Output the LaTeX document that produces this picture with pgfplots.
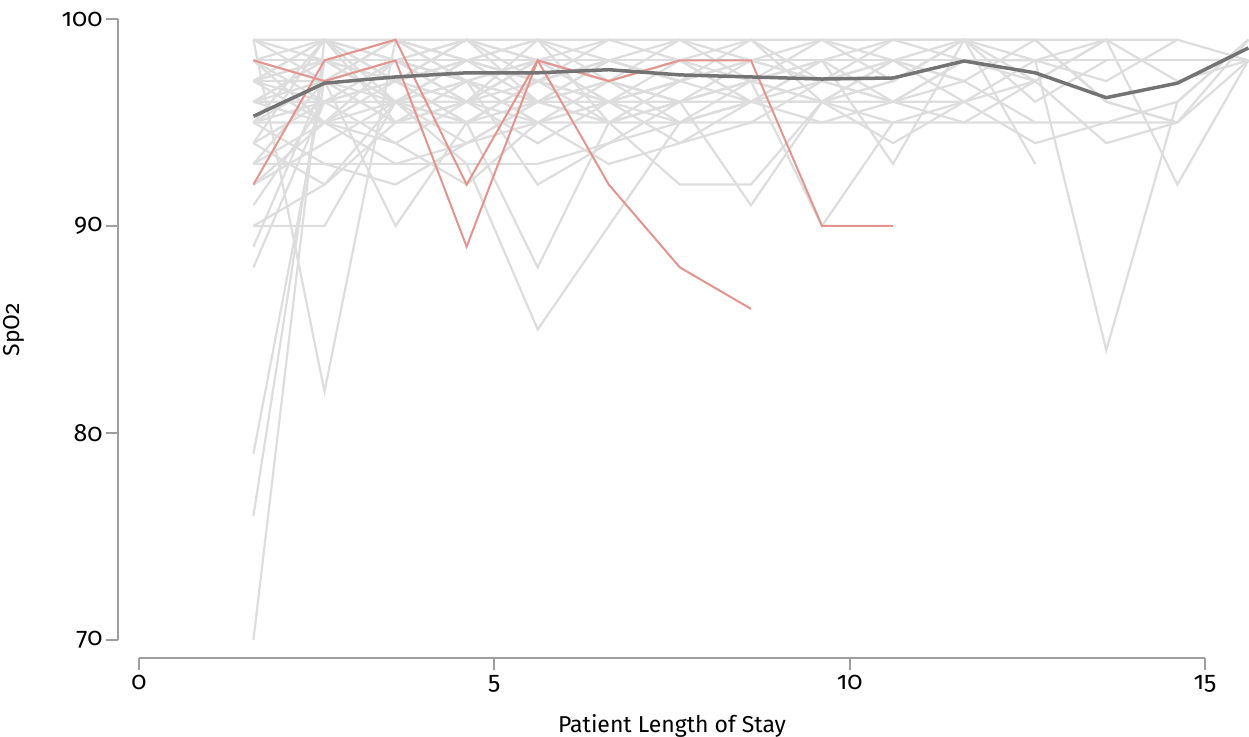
\documentclass[border=0pt]{standalone}
\usepackage{fontspec}
\setmainfont{Fira Sans}[Numbers={OldStyle,Proportional}]
\usepackage{pgfplots}
\pgfplotsset{compat=1.18}

\definecolor{axgrey}{HTML}{9E9E9E}
\definecolor{lgrey}{HTML}{DDDDDD}
\definecolor{pred}{HTML}{E3948F}
\definecolor{meangrey}{HTML}{737373}

\pgfplotsset{
  gl/.style={draw=lgrey, line width=2.2pt, no markers},
  rl/.style={draw=pred, line width=2pt, no markers},
}

\begin{document}
\begin{tikzpicture}
\begin{axis}[
    x=71.07pt, y=20.7pt,
    xmin=0, xmax=15, ymin=70, ymax=100,
    clip=false,
    axis lines*=left,
    axis x line shift=18pt,
    axis y line shift=21pt,
    axis line style={draw=axgrey, line width=2pt},
    tick style={draw=axgrey, line width=2pt},
    tick align=outside,
    major tick length=12pt,
    xtick={0,5,10,15},
    ytick={70,80,90,100},
    /pgf/number format/assume math mode=true,
    ticklabel style={font=\fontsize{25}{30}\selectfont, text=black},
    xticklabel style={yshift=-2pt},
    xlabel={Patient Length of Stay},
    ylabel={SpO2},
    label style={font=\fontsize{23}{28}\selectfont, text=black},
    xlabel style={at={(axis description cs:0.5,0)}, anchor=base, yshift=-92pt},
    ylabel style={at={(axis description cs:0,0.5)}, anchor=base, yshift=119pt},
]

% individual patients
\addplot[gl] coordinates {(1.61,99)(2.61,99)(3.61,99)(4.61,99)(5.61,99)(6.61,99)(7.61,99)(8.61,99)(9.61,99)(10.61,99)(11.61,99)(12.61,99)(13.61,99)(14.61,99)(15.61,98)};
\addplot[gl] coordinates {(1.61,98)(2.61,98)(3.61,98)(4.61,98)(5.61,98)(6.61,98)(7.61,98)(8.61,98)(9.61,98)(10.61,98)(11.61,98)(12.61,98)(13.61,98)(14.61,98)(15.61,98)};
\addplot[gl] coordinates {(1.61,97)(2.61,96)(3.61,96)(4.61,96)(5.61,96)(6.61,96)(7.61,96)(8.61,96)(9.61,96)(10.61,96)(11.61,96)(12.61,94)(13.61,95)(14.61,96)(15.61,99)};
\addplot[gl] coordinates {(1.61,95)(2.61,95)(3.61,95)(4.61,95)(5.61,95)(6.61,95)(7.61,95)(8.61,95)(9.61,95)(10.61,95)(11.61,95)(12.61,95)(13.61,95)(14.61,95)(15.61,98)};
\addplot[gl] coordinates {(1.61,96)(2.61,97)(3.61,99)(4.61,97)(5.61,98)(6.61,97)(7.61,99)(8.61,98)(9.61,97)(10.61,99)(11.61,99)(12.61,98)(13.61,84)(14.61,96)(15.61,99)};
\addplot[gl] coordinates {(1.61,97)(2.61,98)(3.61,96)(4.61,98)(5.61,99)(6.61,97)(7.61,98)(8.61,96)(9.61,98)(10.61,93)(11.61,99)(12.61,97)(13.61,99)(14.61,92)(15.61,98)};
\addplot[gl] coordinates {(1.61,98)(2.61,99)(3.61,97)(4.61,95)(5.61,96)(6.61,98)(7.61,97)(8.61,99)(9.61,96)(10.61,97)(11.61,99)(12.61,93)};
\addplot[gl] coordinates {(1.61,99)(2.61,82)(3.61,99)(4.61,98)(5.61,97)(6.61,95)(7.61,96)(8.61,97)(9.61,98)(10.61,99)(11.61,98)};
\addplot[gl] coordinates {(1.61,93)(2.61,93)(3.61,93)(4.61,93)(5.61,93)(6.61,94)(7.61,95)(8.61,96)(9.61,96)(10.61,95)};
\addplot[gl] coordinates {(1.61,90)(2.61,90)(3.61,96)(4.61,97)(5.61,95)(6.61,96)(7.61,97)(8.61,98)};
\addplot[gl] coordinates {(1.61,70)(2.61,99)(3.61,97)(4.61,98)(5.61,96)};
\addplot[gl] coordinates {(1.61,76)(2.61,98)(3.61,96)(4.61,95)(5.61,97)(6.61,98)};
\addplot[gl] coordinates {(1.61,79)(2.61,97)(3.61,98)(4.61,96)(5.61,95)};
\addplot[gl] coordinates {(1.61,88)(2.61,96)(3.61,97)(4.61,99)(5.61,98)(6.61,96)(7.61,97)};
\addplot[gl] coordinates {(1.61,89)(2.61,97)(3.61,95)(4.61,96)(5.61,98)(6.61,99)};
\addplot[gl] coordinates {(1.61,95)(2.61,97)(3.61,90)(4.61,95)(5.61,97)(6.61,96)};
\addplot[gl] coordinates {(1.61,97)(2.61,95)(3.61,96)(4.61,93)(5.61,85)(6.61,90)(7.61,95)(8.61,96)};
\addplot[gl] coordinates {(1.61,96)(2.61,98)(3.61,97)(4.61,95)(5.61,88)(6.61,95)(7.61,97)};
\addplot[gl] coordinates {(1.61,94)(2.61,96)(3.61,98)(4.61,97)(5.61,96)(6.61,95)(7.61,92)(8.61,92)(9.61,96)(10.61,97)};
\addplot[gl] coordinates {(1.61,98)(2.61,97)(3.61,95)(4.61,96)(5.61,98)(6.61,97)(7.61,96)(8.61,91)(9.61,96)(10.61,98)(11.61,97)};
\addplot[gl] coordinates {(1.61,92)(2.61,94)(3.61,96)(4.61,97)(5.61,98)(6.61,97)(7.61,96)(8.61,97)(9.61,90)(10.61,95)(11.61,96)(12.61,97)};
\addplot[gl] coordinates {(1.61,96)(2.61,95)(3.61,94)(4.61,92)(5.61,95)(6.61,97)(7.61,98)(8.61,96)(9.61,97)(10.61,98)};
\addplot[gl] coordinates {(1.61,97)(2.61,99)(3.61,98)(4.61,97)(5.61,95)(6.61,96)(7.61,94)(8.61,95)(9.61,97)(10.61,96)(11.61,95)(12.61,97)(13.61,99)};
\addplot[gl] coordinates {(1.61,95)(2.61,96)(3.61,97)(4.61,96)(5.61,99)(6.61,98)(7.61,97)(8.61,96)(9.61,95)(10.61,96)(11.61,98)(12.61,98)(13.61,97)(14.61,99)};
\addplot[gl] coordinates {(1.61,98)(2.61,96)(3.61,97)(4.61,98)(5.61,97)(6.61,99)(7.61,98)(8.61,97)(9.61,99)(10.61,98)(11.61,99)(12.61,99)(13.61,96)(14.61,95)(15.61,99)};
\addplot[gl] coordinates {(1.61,99)(2.61,97)(3.61,98)(4.61,99)(5.61,97)(6.61,96)(7.61,98)(8.61,99)(9.61,97)(10.61,98)(11.61,96)(12.61,98)(13.61,99)(14.61,97)(15.61,98)};
\addplot[gl] coordinates {(1.61,96)(2.61,98)(3.61,99)(4.61,97)(5.61,96)(6.61,97)(7.61,95)(8.61,96)(9.61,98)};
\addplot[gl] coordinates {(1.61,97)(2.61,97)(3.61,96)(4.61,98)(5.61,99)(6.61,95)(7.61,96)};
\addplot[gl] coordinates {(1.61,99)(2.61,98)(3.61,96)(4.61,95)(5.61,97)(6.61,98)};
\addplot[gl] coordinates {(1.61,93)(2.61,95)(3.61,98)(4.61,99)(5.61,96)};
\addplot[gl] coordinates {(1.61,94)(2.61,99)(3.61,95)(4.61,97)};
\addplot[gl] coordinates {(1.61,91)(2.61,96)(3.61,94)(4.61,96)(5.61,97)(6.61,98)(7.61,97)};
\addplot[gl] coordinates {(1.61,90)(2.61,92)(3.61,96)(4.61,98)(5.61,97)};
\addplot[gl] coordinates {(1.61,95)(2.61,99)(3.61,98)(4.61,96)(5.61,94)(6.61,96)(7.61,95)(8.61,97)(9.61,98)(10.61,96)(11.61,97)(12.61,99)(13.61,96)(14.61,95)};
\addplot[gl] coordinates {(1.61,96)(2.61,96)(3.61,98)(4.61,97)(5.61,96)(6.61,98)(7.61,99)(8.61,97)(9.61,96)(10.61,94)(11.61,96)};
\addplot[gl] coordinates {(1.61,98)(2.61,95)(3.61,97)(4.61,96)(5.61,98)(6.61,96)(7.61,97)(8.61,98)(9.61,99)(10.61,97)(11.61,99)(12.61,96)(13.61,98)};
\addplot[gl] coordinates {(1.61,97)(2.61,99)(3.61,96)(4.61,94)(5.61,96)(6.61,95)(7.61,96)(8.61,97)(9.61,96)(10.61,98)(11.61,97)(12.61,95)};
\addplot[gl] coordinates {(1.61,93)(2.61,97)(3.61,99)(4.61,98)};
\addplot[gl] coordinates {(1.61,92)(2.61,95)(3.61,93)(4.61,94)(5.61,96)(6.61,97)(7.61,98)};
\addplot[gl] coordinates {(1.61,97)(2.61,98)(3.61,97)(4.61,99)(5.61,98)(6.61,97)(7.61,96)(8.61,98)(9.61,97)(10.61,96)(11.61,98)(12.61,97)(13.61,94)(14.61,95)};
\addplot[gl] coordinates {(1.61,95)(2.61,93)(3.61,92)(4.61,94)(5.61,95)(6.61,93)(7.61,94)(8.61,96)};
\addplot[gl] coordinates {(1.61,94)(2.61,92)(3.61,95)(4.61,97)(5.61,92)(6.61,94)(7.61,96)};

% highlighted patients
\addplot[rl] coordinates {(1.61,92)(2.61,98)(3.61,99)(4.61,92)(5.61,98)(6.61,97)(7.61,98)(8.61,98)(9.61,90)(10.61,90)};
\addplot[rl] coordinates {(1.61,98)(2.61,97)(3.61,98)(4.61,89)(5.61,98)(6.61,92)(7.61,88)(8.61,86)};

% mean
\addplot[draw=meangrey, line width=3.5pt, no markers] coordinates {(1.61,95.3)(2.61,96.9)(3.61,97.2)(4.61,97.4)(5.61,97.4)(6.61,97.55)(7.61,97.3)(8.61,97.2)(9.61,97.1)(10.61,97.15)(11.61,97.97)(12.61,97.4)(13.61,96.2)(14.61,96.9)(15.61,98.6)};

\coordinate (o) at (axis cs:0,70);
\end{axis}
\pgfresetboundingbox
\path ([shift={(-139pt,-96pt)}]o) rectangle ([shift={(1110pt,640pt)}]o);
\end{tikzpicture}
\end{document}
